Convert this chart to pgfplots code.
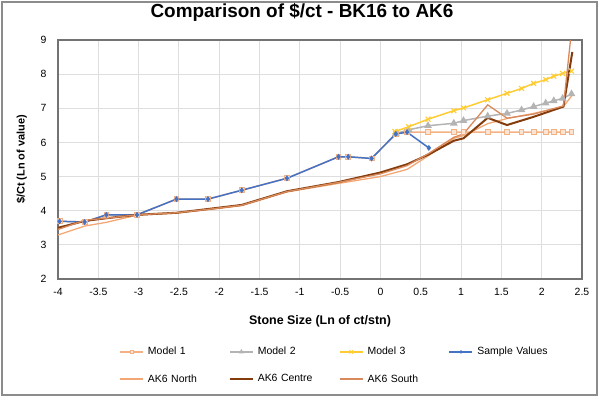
\documentclass[border=0pt]{standalone}
\usepackage{fontspec}
\setmainfont{Liberation Sans}
\usepackage{pgfplots}
\pgfplotsset{compat=1.18}
\definecolor{mone}{HTML}{F4B183}
\definecolor{mtwo}{HTML}{B4B4B4}
\definecolor{mthree}{HTML}{FFCC33}
\definecolor{samp}{HTML}{4472C4}
\definecolor{north}{HTML}{F2A774}
\definecolor{centre}{HTML}{843C0C}
\definecolor{south}{HTML}{D98A5C}
\begin{document}
\begin{tikzpicture}
\useasboundingbox (-58bp,-118bp) rectangle (543bp,279bp);
\begin{axis}[
  at={(0,0)}, anchor=south west,
  width=524bp, height=239bp, scale only axis,
  xmin=-4, xmax=2.5, ymin=2, ymax=9,
  xtick={-4,-3.5,-3,-2.5,-2,-1.5,-1,-0.5,0,0.5,1,1.5,2,2.5},
  xticklabels={-4,-3.5,-3,-2.5,-2,-1.5,-1,-0.5,0,0.5,1,1.5,2,2.5},
  ytick={2,3,4,5,6,7,8,9},
  yticklabels={2,3,4,5,6,7,8,9},
  /pgf/number format/assume math mode=true,
  grid=major,
  major grid style={draw=black!13, line width=0.9bp},
  axis line style={draw=black!55, line width=1.3bp},
  tick style={draw=none},
  ticklabel style={font=\fontsize{10.5}{12}\selectfont, text=black},
  xticklabel style={yshift=-6bp},
  yticklabel style={xshift=-8bp},
  title={Comparison of \$/ct - BK16 to AK6},
  title style={at={(axis description cs:0.4656,1.092)}, anchor=center, font=\fontsize{19}{22}\selectfont\bfseries},
  xlabel={Stone Size (Ln of ct/stn)},
  xlabel style={at={(axis description cs:0.5,-0.176)}, anchor=center, font=\fontsize{12.5}{14}\selectfont\bfseries},
  ylabel={\$/Ct (Ln of value)},
  ylabel style={at={(axis description cs:-0.0693,0.5)}, anchor=center, font=\fontsize{11}{13}\selectfont\bfseries},
  legend columns=4,
  legend cell align=left,
  legend style={draw=none, fill=none, at={(axis description cs:0.1164,-0.281)}, anchor=north west,
    font=\fontsize{10.5}{12}\selectfont, column sep=0pt, row sep=16bp, inner sep=0pt,
    nodes={inner sep=1bp, text width=80bp, align=left}},
  /tikz/every odd column/.append style={column sep=3bp},
  legend image code/.code={\draw[mark repeat=2,mark phase=2,#1,line width=1.8bp,every mark/.append style={scale=0.7,line width=0.8bp}] plot coordinates {(0bp,0bp) (11.5bp,0bp) (23bp,0bp)};},
]
% Model 1
\addplot[color=mone, line width=1.5bp, mark=square*, mark size=2.4bp, mark options={fill=mone!35, draw=mone, line width=0.9bp}] coordinates {
(-3.98,3.69) (-3.67,3.67) (-3.40,3.88) (-3.02,3.88) (-2.53,4.34) (-2.14,4.34)
(-1.72,4.60) (-1.16,4.95) (-0.52,5.58) (-0.40,5.58) (-0.11,5.53) (0.19,6.25)
(0.33,6.30) (0.59,6.30) (0.91,6.30) (1.03,6.30) (1.33,6.30) (1.57,6.30)
(1.75,6.30) (1.90,6.30) (2.05,6.30) (2.15,6.30) (2.26,6.30) (2.37,6.30)};
\addlegendentry{Model 1}
% Model 2
\addplot[color=mtwo, line width=1.5bp, mark=triangle*, mark size=3bp, mark options={fill=mtwo, draw=mtwo}] coordinates {
(0.19,6.26) (0.35,6.37) (0.59,6.49) (0.91,6.56) (1.03,6.64) (1.33,6.77)
(1.57,6.85) (1.75,6.95) (1.90,7.05) (2.05,7.15) (2.15,7.22) (2.26,7.29) (2.37,7.42)};
\addlegendentry{Model 2}
% Model 3
\addplot[color=mthree, line width=1.5bp, mark=x, mark size=3.5bp, mark options={draw=mthree, line width=1.1bp}] coordinates {
(0.18,6.32) (0.35,6.46) (0.59,6.68) (0.91,6.93) (1.03,7.01) (1.33,7.25)
(1.57,7.44) (1.75,7.58) (1.90,7.73) (2.05,7.84) (2.15,7.94) (2.26,8.02) (2.37,8.09)};
\addlegendentry{Model 3}
% Sample Values
\addplot[color=samp, line width=1.5bp, mark=diamond*, mark size=1.8bp, mark options={fill=samp, draw=samp}] coordinates {
(-3.98,3.69) (-3.67,3.67) (-3.40,3.88) (-3.02,3.88) (-2.53,4.34) (-2.14,4.34)
(-1.72,4.60) (-1.16,4.95) (-0.52,5.58) (-0.40,5.58) (-0.11,5.53) (0.19,6.25)
(0.33,6.30) (0.60,5.84)};
\addlegendentry{Sample Values}
% AK6 North
\addplot[color=north, line width=1.3bp] coordinates {
(-4.0,3.29) (-3.67,3.55) (-3.40,3.66) (-3.02,3.87) (-2.53,3.93) (-2.14,4.03)
(-1.72,4.15) (-1.16,4.55) (-0.52,4.80) (0.0,5.00) (0.33,5.21) (0.60,5.62)
(0.91,6.12) (1.03,6.20) (1.33,6.55) (1.57,6.70) (1.90,6.85) (2.27,7.05) (2.38,7.39)};
\addlegendentry{AK6 North}
% AK6 Centre
\addplot[color=centre, line width=2bp] coordinates {
(-4.0,3.50) (-3.67,3.70) (-3.40,3.78) (-3.02,3.88) (-2.53,3.94) (-2.14,4.05)
(-1.72,4.17) (-1.16,4.57) (-0.52,4.84) (0.0,5.12) (0.33,5.36) (0.60,5.65)
(0.91,6.05) (1.03,6.12) (1.33,6.72) (1.57,6.51) (1.90,6.75) (2.27,7.05) (2.38,8.65)};
\addlegendentry{AK6 Centre}
% AK6 South
\addplot[color=south, line width=1.3bp] coordinates {
(-4.0,3.45) (-3.67,3.72) (-3.40,3.78) (-3.02,3.88) (-2.53,3.94) (-2.14,4.04)
(-1.72,4.16) (-1.16,4.56) (-0.52,4.83) (0.0,5.08) (0.33,5.32) (0.60,5.68)
(0.91,6.15) (1.03,6.25) (1.33,7.10) (1.57,6.71) (1.90,6.83) (2.27,7.07) (2.38,9.5)};
\addlegendentry{AK6 South}
\end{axis}
\draw[black!45, line width=1.8bp] (-56.3bp,-116.3bp) rectangle (538.7bp,277.3bp);
\end{tikzpicture}
\end{document}
